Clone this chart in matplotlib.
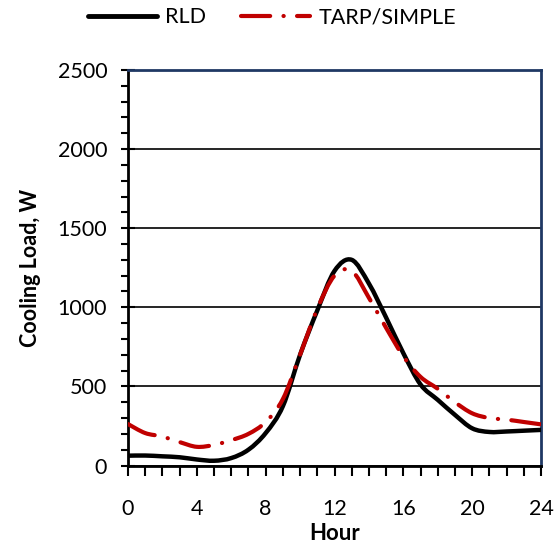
import numpy as np
import matplotlib
matplotlib.use("Agg")
import matplotlib.pyplot as plt
from matplotlib.path import Path
from matplotlib.patches import PathPatch
from matplotlib.lines import Line2D
from matplotlib.ticker import MultipleLocator

plt.rcParams['font.family'] = ['Lato', 'DejaVu Sans']

# Hourly cooling load (W)
hours = list(range(25))
rld = [62, 63, 58, 52, 38, 30, 47, 100, 205, 375, 700, 980, 1230, 1300, 1150,
       935, 710, 512, 415, 320, 235, 212, 215, 220, 225]
tarp_simple = [262, 205, 183, 148, 118, 130, 160, 200, 275, 420, 700, 990, 1200,
               1230, 1060, 870, 690, 560, 485, 400, 330, 300, 290, 275, 260]

series_names = ["RLD", "TARP/SIMPLE"]
x_ticks = [0, 4, 8, 12, 16, 20, 24]
y_ticks = [0, 500, 1000, 1500, 2000, 2500]

BLUE_FRAME = "#1F3864"
RED = "#C00000"
RED_DASH = (0, (7.0, 3.2, 0.05, 3.2))


def smooth_path(x, y):
    """Smoothed (Catmull-Rom style) cubic Bezier path through the points."""
    p = np.column_stack([x, y]).astype(float)
    n = len(p)
    verts = [p[0]]
    codes = [Path.MOVETO]
    for i in range(n - 1):
        p0 = p[i - 1] if i > 0 else p[i]
        p1 = p[i]
        p2 = p[i + 1]
        p3 = p[i + 2] if i + 2 < n else p[i + 1]
        c1 = p1 + (p2 - p0) / 6.0
        c2 = p2 - (p3 - p1) / 6.0
        verts += [c1, c2, p2]
        codes += [Path.CURVE4] * 3
    return Path(np.array(verts), codes)


fig = plt.figure(figsize=(5.6, 5.46), dpi=100)
ax = fig.add_axes([128 / 560, 1 - 465.5 / 546, (541 - 128) / 560, (465.5 - 70) / 546])

ax.set_xlim(0, 24)
ax.set_ylim(0, 2500)

ax.grid(axis='y', color='black', linewidth=1.2, zorder=0)
ax.set_axisbelow(True)

ax.add_patch(PathPatch(smooth_path(hours, rld), fill=False, edgecolor='black',
                       linewidth=3.2, capstyle='round', joinstyle='round', zorder=3))
ax.add_patch(PathPatch(smooth_path(hours, tarp_simple), fill=False, edgecolor=RED,
                       linewidth=3.0, linestyle=RED_DASH, capstyle='round',
                       joinstyle='round', zorder=4))

ax.set_xticks(x_ticks)
ax.set_yticks(y_ticks)
ax.xaxis.set_minor_locator(MultipleLocator(1))
ax.yaxis.set_minor_locator(MultipleLocator(100))
ax.tick_params(axis='x', which='both', direction='out', length=7, width=1.5,
               labelsize=15.5, pad=17, color='black')
ax.tick_params(axis='y', which='major', direction='inout', length=10, width=1.5,
               labelsize=15.5, pad=10, color='black')
ax.tick_params(axis='y', which='minor', direction='out', length=5, width=1.5,
               color='black')

for side in ('left', 'bottom'):
    ax.spines[side].set_color('black')
    ax.spines[side].set_linewidth(2)
for side in ('top', 'right'):
    ax.spines[side].set_color(BLUE_FRAME)
    ax.spines[side].set_linewidth(2)

ax.set_xlabel("Hour", fontsize=16, fontweight='bold', labelpad=3)
ax.set_ylabel("Cooling Load, W", fontsize=15.5, fontweight='bold', labelpad=12)

handles = [
    Line2D([], [], color='black', linewidth=3.5, solid_capstyle='round'),
    Line2D([], [], color=RED, linewidth=3.0, linestyle=(0, (7.0, 3.2, 0.05, 3.2)),
           dash_capstyle='round'),
]
fig.legend(handles, series_names, loc='upper center', bbox_to_anchor=(272 / 560, 1.022),
           ncol=2, frameon=False, fontsize=15.5, handlelength=3.2, handletextpad=0.4,
           columnspacing=1.6)

fig.savefig("out.png", dpi=100)
